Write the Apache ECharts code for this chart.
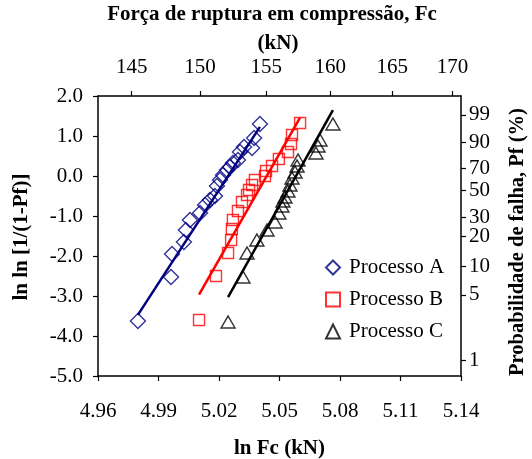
<!DOCTYPE html>
<html>
<head>
<meta charset="utf-8">
<script src="https://cdn.jsdelivr.net/npm/echarts@6/dist/echarts.min.js"></script>
<style>
  html, body { margin: 0; padding: 0; background: #fff; }
  #chart { width: 532px; height: 459px; }
</style>
</head>
<body>
<div id="chart"></div>
<script>
// pontos (ln Fc, ln ln [1/(1-Pf)])
const procA = [
  [4.9798, -3.625], [4.9962, -2.525], [4.9967, -1.95], [5.0026, -1.65], [5.0036, -1.35],
  [5.0056, -1.10], [5.0106, -0.925], [5.0131, -0.725], [5.0155, -0.60], [5.0180, -0.50],
  [5.0190, -0.25], [5.0205, -0.10], [5.0220, 0.025], [5.0240, 0.15], [5.0255, 0.225],
  [5.0269, 0.325], [5.0294, 0.40], [5.0304, 0.60], [5.0324, 0.725], [5.0364, 0.70],
  [5.0374, 0.95], [5.0403, 1.30]
]
const procB = [
  [5.0101, -3.60], [5.0185, -2.50], [5.0245, -1.925], [5.0260, -1.60], [5.0264, -1.325],
  [5.0269, -1.10], [5.0294, -0.875], [5.0314, -0.65], [5.0339, -0.475], [5.0349, -0.35],
  [5.0364, -0.225], [5.0378, -0.10], [5.0428, 0.0], [5.0433, 0.125], [5.0463, 0.25],
  [5.0497, 0.425], [5.0542, 0.60], [5.0557, 0.80], [5.0562, 1.025], [5.0602, 1.325]
]
const procC = [
  [5.0245, -3.65], [5.0319, -2.525], [5.0339, -1.925], [5.0388, -1.60], [5.0438, -1.35],
  [5.0478, -1.15], [5.0497, -0.925], [5.0512, -0.75], [5.0517, -0.625], [5.0527, -0.525],
  [5.0542, -0.375], [5.0552, -0.225], [5.0562, -0.05], [5.0577, 0.10], [5.0587, 0.25],
  [5.0592, 0.40], [5.0681, 0.575], [5.0691, 0.75], [5.0701, 0.90], [5.0765, 1.30]
]

// retas de ajuste: inclinacao (modulo de Weibull) e ln Fc onde y = 0
const fitSlope = [77.7, 88.3, 89.9]
const fitX0 = [5.0245, 5.0437, 5.0582]

// rotulos dos eixos
const xTicks = [4.96, 4.99, 5.02, 5.05, 5.08, 5.11, 5.14]
const fcTicks = [145, 150, 155, 160, 165, 170]
const pfTicks = [1, 5, 10, 20, 30, 50, 70, 90, 99]

const nomes = ['Processo A', 'Processo B', 'Processo C']
const cores = ['#000080', '#ff0000', '#000000']
const simbolos = ['diamond', 'rect', 'triangle']
const tamanhos = [[15, 15], [11, 11], [14, 12]]

const fonte = '"Liberation Serif", "Times New Roman", serif'
const fonteNome = size => 'bold ' + size + 'px "Liberation Serif", "Times New Roman", serif'

const fitLine = (pts, i) => {
  const xs = pts.map(p => p[0])
  const x1 = Math.min(...xs)
  const x2 = Math.max(...xs)
  return [x1, x2].map(x => [x, fitSlope[i] * (x - fitX0[i])])
}

const chart = echarts.init(document.getElementById('chart'))

const eixoBase = {
  min: 4.96,
  max: 5.14,
  axisLine: { show: true, onZero: false, lineStyle: { color: '#000', width: 1.5 } },
  axisTick: { show: true, length: 5, lineStyle: { color: '#000', width: 1.2 } },
  splitLine: { show: false },
  axisLabel: { color: '#000', fontFamily: fonte, fontSize: 21 },
  nameTextStyle: { color: '#000', fontFamily: fonte, fontSize: 21, fontWeight: 'bold' }
}

const dados = [procA, procB, procC]

const series = []
dados.forEach((pts, i) => {
  series.push({
    name: nomes[i],
    type: 'scatter',
    data: pts,
    symbol: simbolos[i],
    symbolSize: tamanhos[i],
    itemStyle: { color: 'rgba(255,255,255,0)', borderColor: cores[i], borderWidth: 1.4 },
    z: 3
  })
})
dados.forEach((pts, i) => {
  series.push({
    name: 'Ajuste ' + i,
    type: 'line',
    data: fitLine(pts, i),
    symbol: 'none',
    lineStyle: { color: cores[i], width: 2.5 },
    z: 2
  })
})

// titulos dos eixos (texto livre)
const textoEixo = (text, x, y, rot, size) => ({
  type: 'text',
  x: x,
  y: y,
  rotation: rot,
  style: { text: text, font: fonteNome(size), fill: '#000', align: 'center', verticalAlign: 'middle' }
})

chart.setOption({
  animation: false,
  grid: { left: 98, right: 71, top: 96, bottom: 83, outerBoundsMode: 'none', containLabel: false },
  legend: {
    data: nomes,
    orient: 'vertical',
    left: 320,
    top: 252,
    itemWidth: 14,
    itemHeight: 14,
    itemGap: 11,
    textStyle: { color: '#000', fontFamily: fonte, fontSize: 21, padding: [0, 0, 0, 4] }
  },
  graphic: [
    textoEixo('Força de ruptura em compressão, Fc', 272, 15, 0, 21),
    textoEixo('(kN)', 278, 44, 0, 21),
    textoEixo('ln ln [1/(1-Pf)]', 22, 237, Math.PI / 2, 21),
    textoEixo('Probabilidade de falha, Pf (%)', 518, 242, Math.PI / 2, 20.5)
  ],
  xAxis: [
    {
      ...eixoBase,
      type: 'value',
      position: 'bottom',
      name: 'ln Fc (kN)',
      nameLocation: 'middle',
      nameGap: 62,
      axisLabel: {
        ...eixoBase.axisLabel,
        margin: 25,
        customValues: xTicks,
        formatter: v => v.toFixed(2)
      },
      axisTick: { ...eixoBase.axisTick, customValues: xTicks }
    },
    {
      ...eixoBase,
      type: 'value',
      position: 'top',
      axisLabel: {
        ...eixoBase.axisLabel,
        margin: 18,
        customValues: fcTicks.map(f => Math.log(f)),
        formatter: v => String(Math.round(Math.exp(v)))
      },
      axisTick: { ...eixoBase.axisTick, customValues: fcTicks.map(f => Math.log(f)) }
    }
  ],
  yAxis: [
    {
      ...eixoBase,
      type: 'value',
      min: -5,
      max: 2,
      interval: 1,
      position: 'left',
      axisLabel: { ...eixoBase.axisLabel, margin: 15, formatter: v => v.toFixed(1) }
    },
    {
      ...eixoBase,
      type: 'value',
      min: -5,
      max: 2,
      position: 'right',
      axisLabel: {
        ...eixoBase.axisLabel,
        margin: 8,
        customValues: pfTicks.map(p => Math.log(-Math.log(1 - p / 100))),
        formatter: v => String(Math.round((1 - Math.exp(-Math.exp(v))) * 100))
      },
      axisTick: {
        ...eixoBase.axisTick,
        customValues: pfTicks.map(p => Math.log(-Math.log(1 - p / 100)))
      }
    }
  ],
  series: series
})
</script>
</body>
</html>
